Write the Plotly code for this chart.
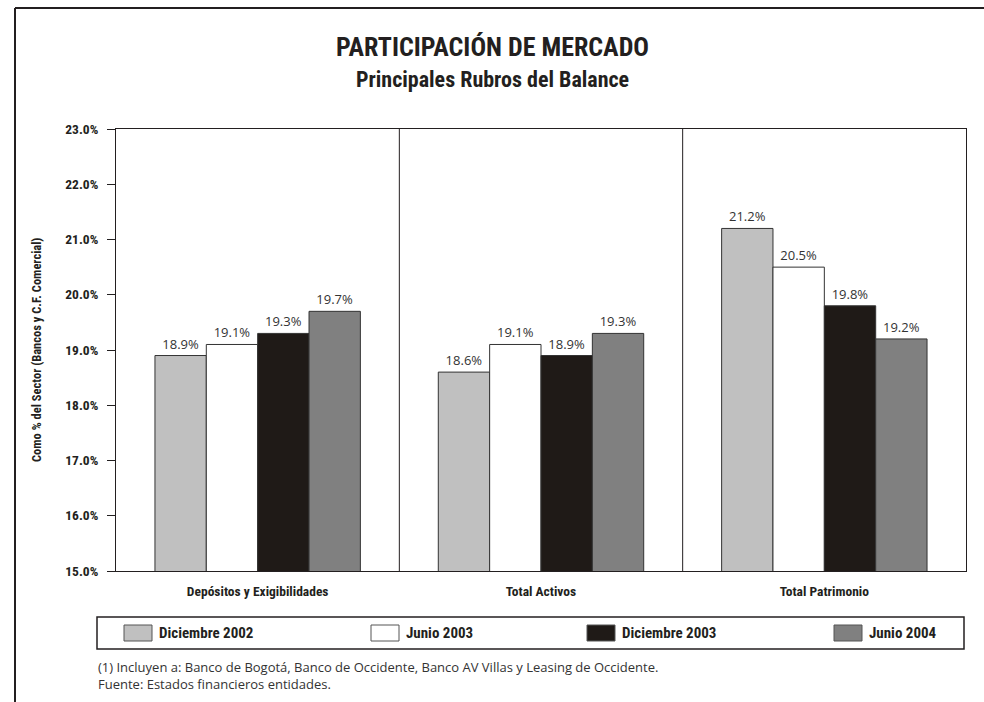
import plotly.graph_objects as go

# Market share, main balance-sheet items (% of sector)
categories = ["Depósitos y Exigibilidades", "Total Activos", "Total Patrimonio"]
series_names = ["Diciembre 2002", "Junio 2003", "Diciembre 2003", "Junio 2004"]
dic_2002 = [18.9, 18.6, 21.2]
jun_2003 = [19.1, 19.1, 20.5]
dic_2003 = [19.3, 18.9, 19.8]
jun_2004 = [19.7, 19.3, 19.2]
series_values = [dic_2002, jun_2003, dic_2003, jun_2004]
series_colors = ["#C0C0C0", "#FFFFFF", "#1F1A17", "#808080"]

y_min, y_max = 15.0, 23.0
tick_values = [15, 16, 17, 18, 19, 20, 21, 22, 23]
tick_labels = ["15.0%", "16.0%", "17.0%", "18.0%", "19.0%", "20.0%", "21.0%", "22.0%", "23.0%"]

footnotes = [
    "(1) Incluyen a: Banco de Bogotá, Banco de Occidente, Banco AV Villas y Leasing de Occidente.",
    "Fuente: Estados financieros entidades.",
]

W, H = 984, 702
ML, MR, MT, MB = 116, 18, 129, 131
PW, PH = W - ML - MR, H - MT - MB

NARROW = "Liberation Sans Narrow, Arial Narrow, Roboto Condensed, Liberation Sans, sans-serif"
ROUND = "Century Gothic, Open Sans, Lato, sans-serif"
INK = "#231F20"


def px(x):
    return (x - ML) / PW


def py(y):
    return (H - MB - y) / PH


fig = go.Figure()
for name, vals, color in zip(series_names, series_values, series_colors):
    fig.add_trace(go.Bar(
        name=name,
        x=categories,
        y=vals,
        marker=dict(color=color, line=dict(color="#333333", width=1)),
        text=[f"{v:.1f}%" for v in vals],
        textposition="outside",
        cliponaxis=False,
        textfont=dict(family=ROUND, size=13, color="#333333"),
        showlegend=False,
    ))

shapes = []
# vertical separators between categories
for xb in [0.5, 1.5]:
    shapes.append(dict(type="line", xref="x", yref="paper", x0=xb, x1=xb, y0=0, y1=1,
                       line=dict(color=INK, width=1)))
# outer page frame (top and left edges)
shapes.append(dict(type="line", xref="paper", yref="paper", x0=px(15), x1=px(984), y0=py(8), y1=py(8),
                   line=dict(color=INK, width=2)))
shapes.append(dict(type="line", xref="paper", yref="paper", x0=px(15), x1=px(15), y0=py(8), y1=py(702),
                   line=dict(color=INK, width=2)))
# legend box
shapes.append(dict(type="rect", xref="paper", yref="paper", x0=px(97), x1=px(964), y0=py(617), y1=py(649),
                   line=dict(color=INK, width=1.5), fillcolor="white"))

annotations = []
legend_x = [124, 371, 587, 834]
for lx, name, color in zip(legend_x, series_names, series_colors):
    shapes.append(dict(type="rect", xref="paper", yref="paper", x0=px(lx), x1=px(lx + 28),
                       y0=py(625), y1=py(641), line=dict(color="#555555", width=1), fillcolor=color))
    annotations.append(dict(xref="paper", yref="paper", x=px(lx + 33), y=py(633), text=name,
                            showarrow=False, xanchor="left", yanchor="middle",
                            font=dict(family=NARROW, size=15, color=INK, weight="bold")))

# titles
annotations.append(dict(xref="paper", yref="paper", x=px(492), y=py(47), text="PARTICIPACIÓN DE MERCADO",
                        showarrow=False, xanchor="center", yanchor="middle",
                        font=dict(family=NARROW, size=26, color=INK, weight="bold")))
annotations.append(dict(xref="paper", yref="paper", x=px(492), y=py(80), text="Principales Rubros del Balance",
                        showarrow=False, xanchor="center", yanchor="middle",
                        font=dict(family=NARROW, size=22, color=INK, weight="bold")))
# y axis title
annotations.append(dict(xref="paper", yref="paper", x=px(36), y=py(350),
                        text="Como % del Sector (Bancos y C.F. Comercial)", textangle=-90,
                        showarrow=False, xanchor="center", yanchor="middle",
                        font=dict(family=NARROW, size=12.5, color=INK, weight="bold")))
# footnotes (one block so the two lines stay evenly spaced)
annotations.append(dict(xref="paper", yref="paper", x=px(96), y=py(656),
                        text="<br>".join(footnotes), align="left",
                        showarrow=False, xanchor="left", yanchor="top",
                        font=dict(family=ROUND, size=13, color="#333333")))

fig.update_layout(
    width=W, height=H,
    margin=dict(l=ML, r=MR, t=MT, b=MB),
    paper_bgcolor="white", plot_bgcolor="white",
    barmode="group", bargap=0.275, bargroupgap=0,
    shapes=shapes, annotations=annotations,
    showlegend=False,
    xaxis=dict(
        type="category", showgrid=False, showline=True, linecolor=INK, linewidth=1, mirror=True,
        ticks="", tickfont=dict(family=NARROW, size=13.5, color=INK, weight="bold"),
        ticklabelstandoff=8,
    ),
    yaxis=dict(
        range=[y_min, y_max], tickvals=tick_values, ticktext=tick_labels,
        showgrid=False, showline=True, linecolor=INK, linewidth=1, mirror=True,
        ticks="outside", ticklen=8, tickcolor=INK, zeroline=False,
        tickfont=dict(family=NARROW, size=13.5, color=INK, weight="bold"),
        ticklabelstandoff=6,
    ),
)

fig.write_html("out.html")
